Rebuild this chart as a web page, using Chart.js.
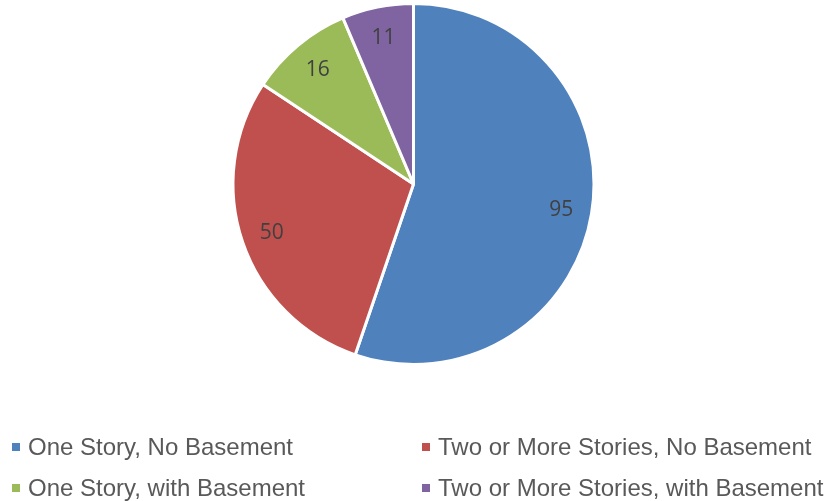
<!DOCTYPE html>
<html>
<head>
<meta charset="utf-8">
<script src="https://cdn.jsdelivr.net/npm/chart.js@4"></script>
<style>
  html, body { margin: 0; padding: 0; background: #fff; }
  #wrap { position: relative; width: 827px; height: 501px; overflow: hidden; }
  #chart { position: absolute; left: 0; top: 0; }
  .item { position: absolute; font-family: "Liberation Sans", Arial, sans-serif; font-size: 24px; color: #595959; white-space: nowrap; line-height: 26px; }
  .box { position: absolute; width: 8px; height: 8px; left: -16px; top: 9px; }
</style>
</head>
<body>
<div id="wrap">
  <canvas id="chart" width="827" height="501"></canvas>
  <div id="legend"></div>
</div>
<script>
// dati del grafico
const categories = ['One Story, No Basement', 'Two or More Stories, No Basement', 'One Story, with Basement', 'Two or More Stories, with Basement'];
const values = [95, 50, 16, 11];
const colors = ['#4F81BD', '#C0504D', '#9BBB59', '#8064A2'];

// etichette dentro le fette
const sliceLabels = {
    id: 'sliceLabels',
    afterDatasetsDraw(chart) {
        const ctx = chart.ctx;
        const meta = chart.getDatasetMeta(0);
        ctx.save();
        ctx.font = '21px "Open Sans", "Noto Sans", sans-serif';
        ctx.fillStyle = '#404040';
        ctx.textAlign = 'center';
        ctx.textBaseline = 'middle';
        meta.data.forEach((arc, i) => {
            const mid = (arc.startAngle + arc.endAngle) / 2;
            const r = arc.outerRadius * 0.83;
            ctx.fillText(String(values[i]), arc.x + Math.cos(mid) * r, arc.y + Math.sin(mid) * r + 1);
        });
        ctx.restore();
    }
};

new Chart(document.getElementById('chart'), {
    type: 'pie',
    data: {
        labels: categories,
        datasets: [{
            data: values,
            backgroundColor: colors,
            borderColor: '#fff',
            borderWidth: 3
        }]
    },
    options: {
        responsive: false,
        animation: false,
        layout: { padding: { top: 2, bottom: 135, left: 0, right: 0 } },
        plugins: {
            legend: { display: false },
            tooltip: { enabled: false }
        }
    },
    plugins: [sliceLabels]
});

// legenda HTML in due colonne
const legendPos = [[28, 434], [438, 434], [28, 475], [438, 475]];
const legend = document.getElementById('legend');
categories.forEach((name, i) => {
    const item = document.createElement('div');
    item.className = 'item';
    item.style.left = legendPos[i][0] + 'px';
    item.style.top = legendPos[i][1] + 'px';
    item.innerHTML = '<span class="box" style="background:' + colors[i] + '"></span>' + name;
    legend.appendChild(item);
});
</script>
</body>
</html>
